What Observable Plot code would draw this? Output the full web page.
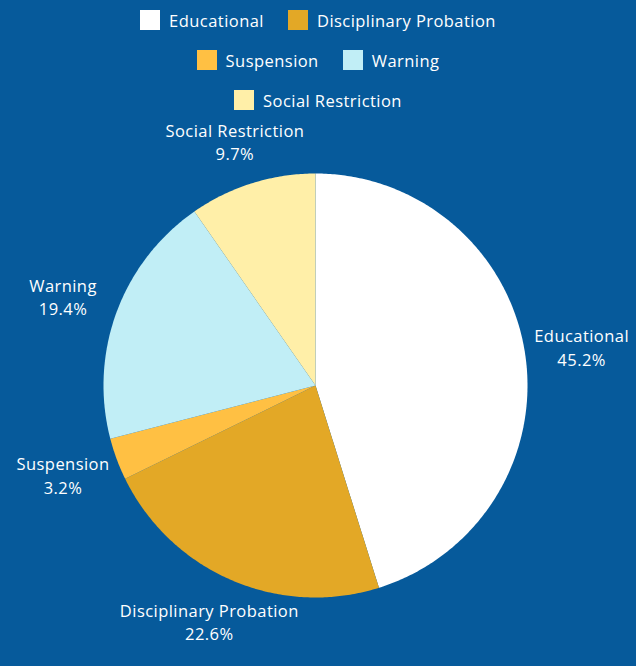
<!DOCTYPE html>
<html>
<head>
<meta charset="utf-8">
<script src="https://cdn.jsdelivr.net/npm/d3@7"></script>
<script src="https://cdn.jsdelivr.net/npm/@observablehq/plot@0.6"></script>
<style>
  html, body { margin: 0; padding: 0; background: #065a9b; }
  body { width: 636px; height: 666px; overflow: hidden; font-family: "Open Sans", Lato, sans-serif; }
  #legend { width: 636px; padding-top: 10px; height: 110px; box-sizing: border-box; }
  .row { display: flex; justify-content: center; column-gap: 24px; height: 20px; margin-bottom: 20px; }
  .item { display: flex; align-items: center; height: 20px; color: #fff; font-size: 16.5px; letter-spacing: 0.45px; }
  .sw { width: 20px; height: 20px; margin-right: 9px; }
  #chart svg { display: block; }
</style>
</head>
<body>
<div id="legend"></div>
<div id="chart"></div>
<script>
const categories = ["Educational", "Disciplinary Probation", "Suspension", "Warning", "Social Restriction"];
const counts = [14, 7, 1, 6, 3];
const percentLabels = ["45.2%", "22.6%", "3.2%", "19.4%", "9.7%"];
const colors = ["#ffffff", "#e3a826", "#ffc043", "#c1eef6", "#ffefa8"];
const legendRows = [[0, 1], [2, 3], [4]];

// Legend
const legend = d3.select("#legend");
legendRows.forEach(r => {
  const row = legend.append("div").attr("class", "row");
  r.forEach(i => {
    const it = row.append("div").attr("class", "item");
    it.append("div").attr("class", "sw").style("background", colors[i]);
    it.append("span").text(categories[i]);
  });
});

// Pie geometry from data
const pie = d3.pie().sort(null).value(d => d)(counts);
const pts = [];
pie.forEach((a, i) => {
  const n = Math.max(4, Math.ceil((a.endAngle - a.startAngle) / 0.01));
  pts.push({cat: categories[i], x: 0, y: 0});
  for (let k = 0; k <= n; k++) {
    const t = a.startAngle + (a.endAngle - a.startAngle) * k / n;
    pts.push({cat: categories[i], x: Math.sin(t), y: Math.cos(t)});
  }
});
const labelRx = 1.27, labelRy = 1.21;
const labels = pie.map((a, i) => {
  const m = (a.startAngle + a.endAngle) / 2;
  return {cat: categories[i], x: labelRx * Math.sin(m), y: labelRy * Math.cos(m), text: categories[i] + "\n" + percentLabels[i]};
});

const H = 556, cx = 315, cy = 275, R = 212;
const chart = Plot.plot({
  width: 636,
  height: H,
  margin: 0,
  style: {background: "transparent", fontFamily: "'Open Sans', Lato, sans-serif", letterSpacing: "0.45px"},
  x: {domain: [-1, 1], range: [cx - R, cx + R], axis: null},
  y: {domain: [-1, 1], range: [cy + R, cy - R], axis: null},
  color: {domain: categories, range: colors},
  marks: [
    Plot.line(pts, {x: "x", y: "y", z: "cat", fill: "cat", stroke: "none", curve: "linear-closed"}),
    Plot.text(labels, {x: "x", y: "y", text: "text", fill: "white", fontSize: 16.5, lineHeight: 1.4, textAnchor: "middle"})
  ]
});
document.getElementById("chart").appendChild(chart);
</script>
</body>
</html>
